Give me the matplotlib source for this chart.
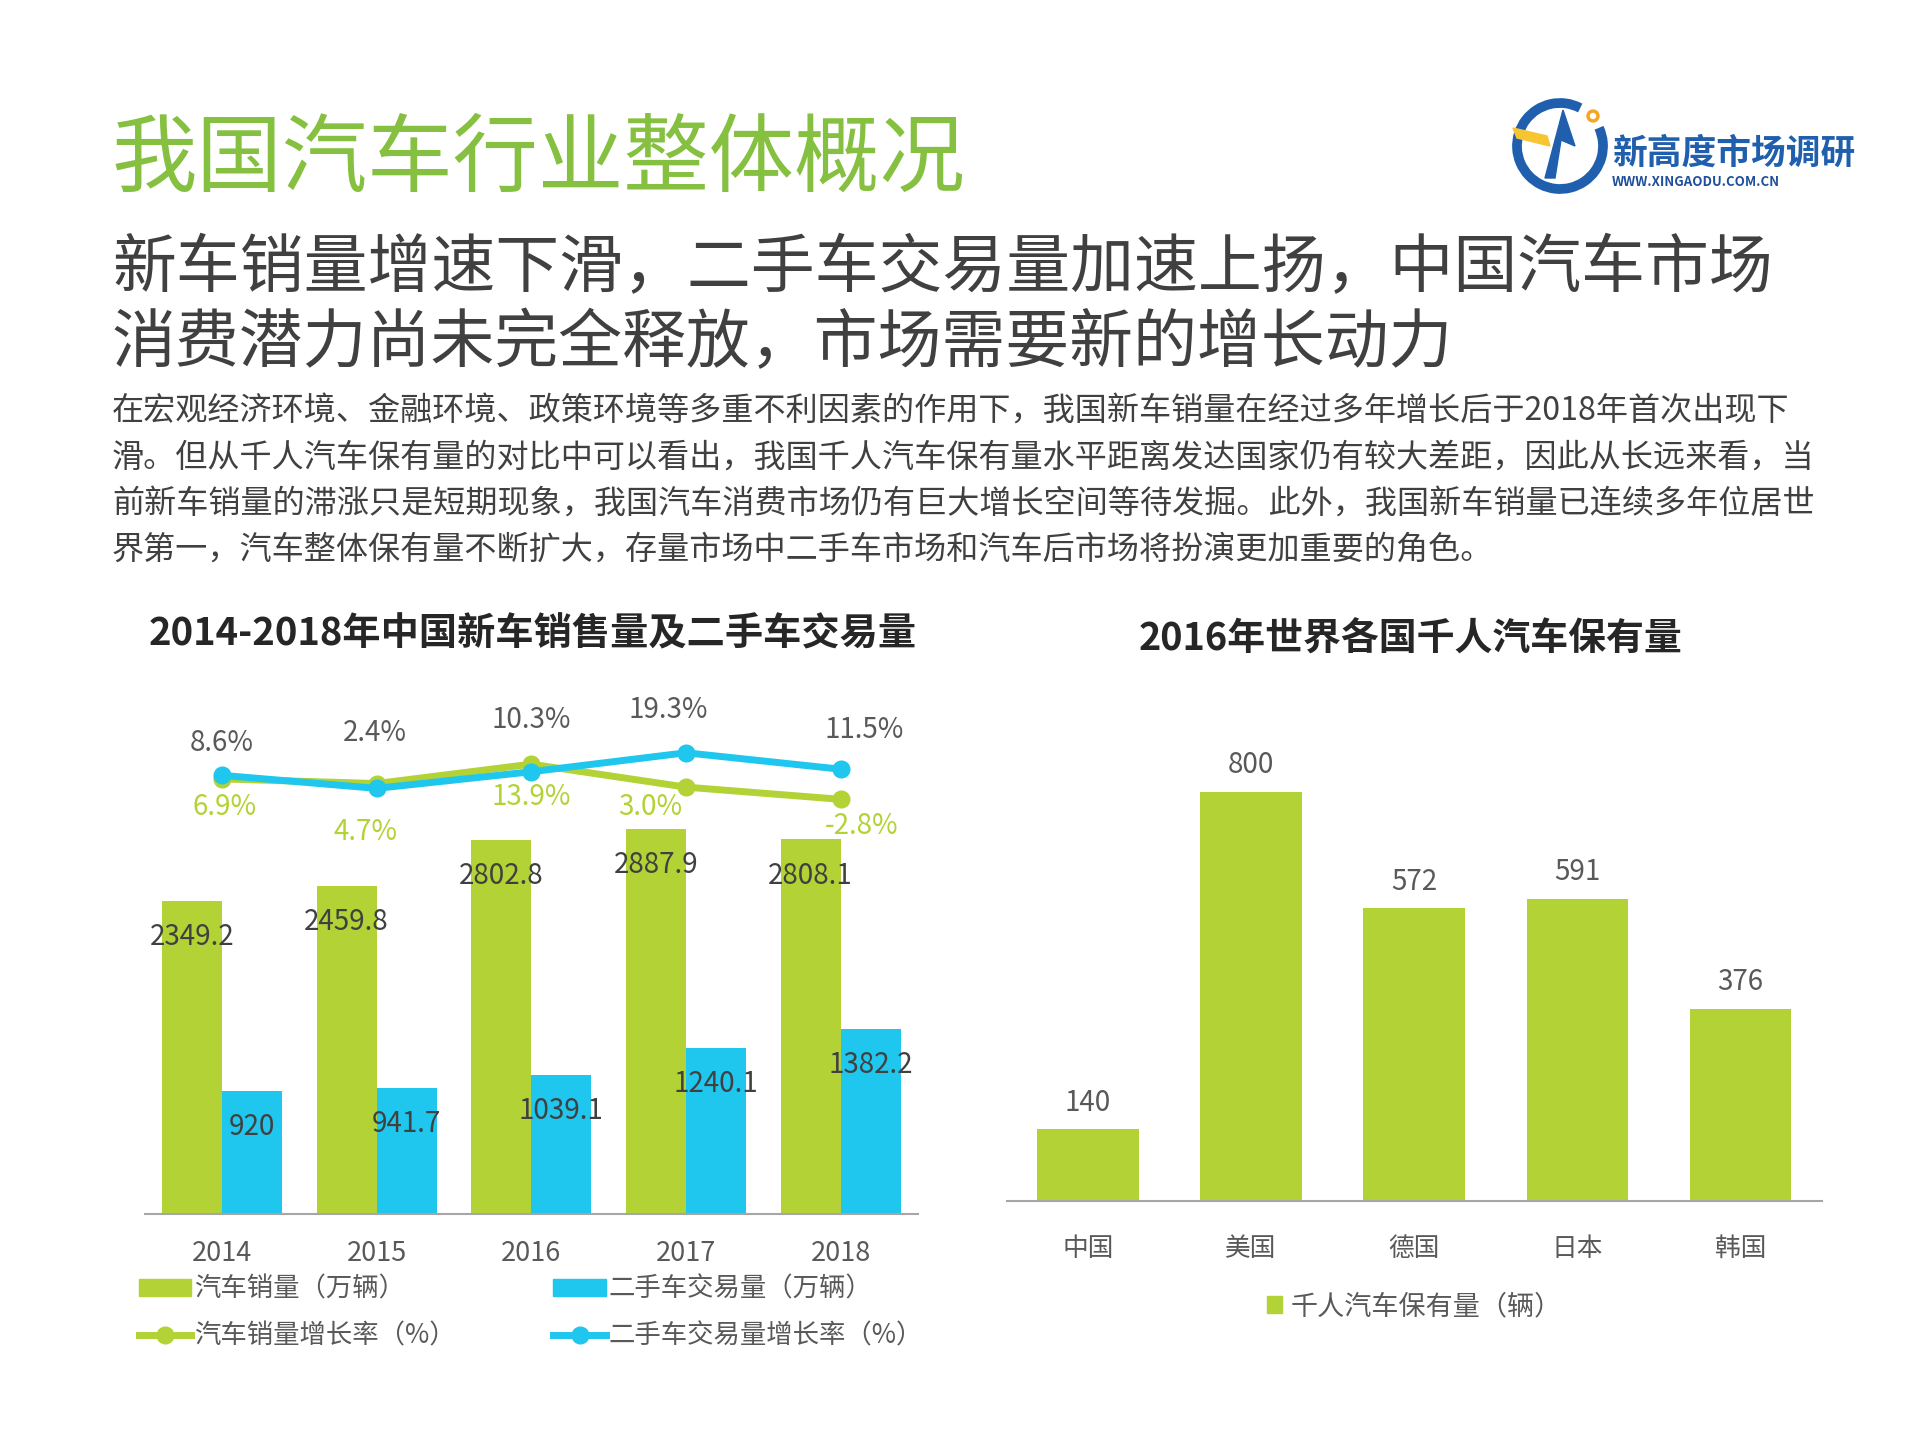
import matplotlib
matplotlib.use('Agg')
import matplotlib.pyplot as plt
from matplotlib.patches import Patch, Arc, Circle, Polygon
from matplotlib.lines import Line2D
import numpy as np

plt.rcParams['font.family'] = ['Noto Sans CJK SC', 'DejaVu Sans']

# data
years = ['2014', '2015', '2016', '2017', '2018']
new_car_sales = [2349.2, 2459.8, 2802.8, 2887.9, 2808.1]
used_car_trades = [920, 941.7, 1039.1, 1240.1, 1382.2]
new_car_growth = [6.9, 4.7, 13.9, 3.0, -2.8]
used_car_growth = [8.6, 2.4, 10.3, 19.3, 11.5]

countries = ['中国', '美国', '德国', '日本', '韩国']
cars_per_1000 = [140, 800, 572, 591, 376]

title = '我国汽车行业整体概况'
subtitle = ['新车销量增速下滑，二手车交易量加速上扬，中国汽车市场',
            '消费潜力尚未完全释放，市场需要新的增长动力']
body = ['在宏观经济环境、金融环境、政策环境等多重不利因素的作用下，我国新车销量在经过多年增长后于2018年首次出现下',
        '滑。但从千人汽车保有量的对比中可以看出，我国千人汽车保有量水平距离发达国家仍有较大差距，因此从长远来看，当',
        '前新车销量的滞涨只是短期现象，我国汽车消费市场仍有巨大增长空间等待发掘。此外，我国新车销量已连续多年位居世',
        '界第一，汽车整体保有量不断扩大，存量市场中二手车市场和汽车后市场将扮演更加重要的角色。']

GREEN = '#B2D235'
BLUE = '#1FC6EE'
DARK = '#404040'
GRAY = '#595959'

W, H = 1920, 1440
fig = plt.figure(figsize=(W / 100, H / 100), dpi=100)


def fx(px):
    return px / W


def fy(py):
    return 1 - py / H


def rect(x0, y0, x1, y1):
    return [fx(x0), fy(y1), (x1 - x0) / W, (y1 - y0) / H]


# header text
fig.text(fx(112), fy(160), title, fontsize=61.5, color='#86C040', va='center', ha='left')
for i, line in enumerate(subtitle):
    fig.text(fx(112), fy(269 + i * 75), line, fontsize=46, color=DARK, va='center', ha='left')
for i, line in enumerate(body):
    fig.text(fx(112), fy(411 + i * 46.3), line, fontsize=23.1, color=DARK, va='center', ha='left')

# logo (rough)
lax = fig.add_axes(rect(1505, 92, 1615, 198))
lax.set_xlim(0, 110)
lax.set_ylim(0, 106)
lax.set_aspect('equal')
lax.axis('off')
lax.add_patch(Arc((55, 52), 86, 86, theta1=62, theta2=385, color='#1F5FAD', lw=7))
lax.add_patch(Circle((88, 82), 6, color='#F5A623'))
lax.add_patch(Circle((88, 82), 2.5, color='white'))
lax.add_patch(Polygon([[8, 70], [42, 62], [45, 52], [12, 60]], color='#F7C531'))
lax.add_patch(Polygon([[40, 20], [58, 88], [70, 52], [56, 58], [50, 20]], color='#1F5FAD'))
fig.text(fx(1612), fy(153), '新高度市场调研', fontsize=25, fontweight='bold', color='#1F5FAD',
         va='center', ha='left')
fig.text(fx(1612), fy(182), 'WWW.XINGAODU.COM.CN', fontsize=9.5, fontweight='bold', color='#1F4E9A',
         va='center', ha='left')

# chart titles
fig.text(fx(533), fy(634), '2014-2018年中国新车销售量及二手车交易量', fontsize=27.5, fontweight='bold',
         color='#262626', ha='center', va='center')
fig.text(fx(1411), fy(639), '2016年世界各国千人汽车保有量', fontsize=27.3, fontweight='bold',
         color='#262626', ha='center', va='center')

# left chart
ax = fig.add_axes(rect(144.5, 686, 918, 1213.5))
x = np.arange(len(years))
bw = 0.388
ax.bar(x - bw / 2, new_car_sales, bw, color=GREEN)
ax.bar(x + bw / 2, used_car_trades, bw, color=BLUE)
ax.set_xlim(-0.5, 4.5)
ax.set_ylim(0, 3960)
for s in ['top', 'right', 'left']:
    ax.spines[s].set_visible(False)
ax.spines['bottom'].set_color('#A6A6A6')
ax.spines['bottom'].set_linewidth(1.5)
ax.set_yticks([])
ax.set_xticks(x)
ax.set_xticklabels(years, fontsize=19.5, color=GRAY)
ax.tick_params(axis='x', length=0, pad=19)
for xi, v in zip(x, new_car_sales):
    ax.annotate(f'{v:.1f}', (xi - bw / 2, v), xytext=(0, -26), textcoords='offset points',
                ha='center', va='center', fontsize=20, color=DARK)
for xi, v in zip(x, used_car_trades):
    ax.annotate(f'{v:g}', (xi + bw / 2, v), xytext=(0, -26), textcoords='offset points',
                ha='center', va='center', fontsize=20, color=DARK)

ax2 = ax.twinx()
ax2.set_ylim(-199.4, 51.0)
ax2.axis('off')
ax2.plot(x, new_car_growth, color=GREEN, lw=5, marker='o', ms=12, solid_capstyle='round')
ax2.plot(x, used_car_growth, color=BLUE, lw=5, marker='o', ms=12, solid_capstyle='round')

# label offsets (points) so the labels sit like the original
used_dx = [0, -1, 0, -13, 17]
used_dy = [23, 40, 37, 31, 28]
new_dx = [2, -8, 0, -26, 15]
new_dy = [-20, -35, -24, -14, -19]
for xi, v, dx, dy in zip(x, used_car_growth, used_dx, used_dy):
    ax2.annotate(f'{v:.1f}%', (xi, v), xytext=(dx, dy), textcoords='offset points',
                 ha='center', va='center', fontsize=20, color=GRAY)
for xi, v, dx, dy in zip(x, new_car_growth, new_dx, new_dy):
    ax2.annotate(f'{v:.1f}%', (xi, v), xytext=(dx, dy), textcoords='offset points',
                 ha='center', va='center', fontsize=20, color=GREEN)

handles = [Patch(color=GREEN, label='汽车销量（万辆）'),
           Line2D([], [], color=GREEN, lw=5, marker='o', ms=12, label='汽车销量增长率（%）'),
           Patch(color=BLUE, label='二手车交易量（万辆）'),
           Line2D([], [], color=BLUE, lw=5, marker='o', ms=12, label='二手车交易量增长率（%）')]
fig.legend(handles=handles, ncol=2, loc='upper left', bbox_to_anchor=(fx(128), fy(1265)),
           frameon=False, fontsize=19, labelcolor=GRAY, handlelength=2.0, handleheight=0.6,
           handletextpad=0.1, columnspacing=3.7, labelspacing=0.75, borderaxespad=0)

# right chart
bx = fig.add_axes(rect(1006.5, 686, 1822, 1201))
xc = np.arange(len(countries))
bx.bar(xc, cars_per_1000, 0.623, color=GREEN)
bx.set_xlim(-0.5, 4.5)
bx.set_ylim(0, 1007)
for s in ['top', 'right', 'left']:
    bx.spines[s].set_visible(False)
bx.spines['bottom'].set_color('#A6A6A6')
bx.spines['bottom'].set_linewidth(1.5)
bx.set_yticks([])
bx.set_xticks(xc)
bx.set_xticklabels(countries, fontsize=18.5, color=GRAY)
bx.tick_params(axis='x', length=0, pad=25)
for xi, v in zip(xc, cars_per_1000):
    bx.annotate(f'{v}', (xi, v), xytext=(0, 19), textcoords='offset points',
                ha='center', va='center', fontsize=20, color=GRAY)
bx.legend(handles=[Patch(color=GREEN, label='千人汽车保有量（辆）')], loc='center',
          bbox_to_anchor=(0.5, -0.205), frameon=False, fontsize=19.5, labelcolor=GRAY,
          handlelength=0.55, handleheight=0.6, handletextpad=0.3)

fig.savefig('out.png', dpi=100, facecolor='white')
